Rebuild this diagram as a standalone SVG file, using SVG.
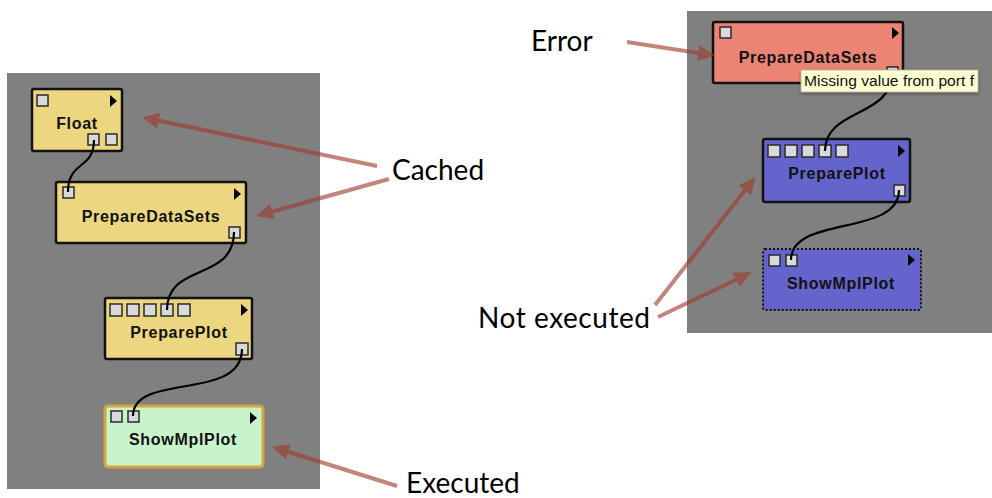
<svg xmlns="http://www.w3.org/2000/svg" width="992" height="498" viewBox="0 0 992 498">
<style>
.panel{fill:#808080}
.node{stroke:#111;stroke-width:2.5}
.cached{fill:#ecd680}
.error{fill:#eb8474}
.notrun{fill:#6464cc}
.port{fill:#d9d9d9;stroke:#2a2a2a;stroke-width:1.5}
.play{fill:#000}
.ntext{font-family:"Liberation Sans",Arial,sans-serif;font-weight:bold;font-size:16px;letter-spacing:0.7px;fill:#111;text-anchor:middle}
.wire{fill:none;stroke:#000;stroke-width:2.2}
.arrow{fill:none;stroke:#a03a2c;stroke-width:4;opacity:0.62}
.label{font-family:Lato,"Open Sans",sans-serif;font-size:28px;fill:#000}
.tip{font-family:"Liberation Sans",Arial,sans-serif;font-size:14px;fill:#111}
</style>
<defs>
<marker id="ah" markerUnits="userSpaceOnUse" markerWidth="20" markerHeight="18" refX="13" refY="8" orient="auto">
<path d="M0,0 L17,8 L0,16 z" fill="#a03a2c"/>
</marker>
<filter id="sh" x="-10%" y="-30%" width="120%" height="170%">
<feDropShadow dx="0" dy="1.5" stdDeviation="1.5" flood-color="#000" flood-opacity="0.4"/>
</filter>
</defs>
<rect class="panel" x="7" y="73" width="313" height="416"/>
<rect class="panel" x="687" y="11" width="305" height="322"/>

<g id="float">
<rect class="node cached" x="32" y="89" width="90" height="62" rx="2"/>
<rect class="port" x="37" y="95" width="11" height="11"/>
<polygon class="play" points="110,95 117,101 110,107"/>
<rect class="port" x="88" y="134" width="11" height="11"/>
<rect class="port" x="106" y="134" width="11" height="11"/>
<text class="ntext" x="77" y="129">Float</text>
</g>
<g id="prepareDataSets1">
<rect class="node cached" x="56" y="182" width="190" height="61" rx="2"/>
<rect class="port" x="63" y="187" width="11" height="11"/>
<polygon class="play" points="234,188 241,194 234,200"/>
<rect class="port" x="229" y="227" width="11" height="11"/>
<text class="ntext" x="151" y="222">PrepareDataSets</text>
</g>
<g id="preparePlot1">
<rect class="node cached" x="105" y="298" width="147" height="61" rx="2"/>
<rect class="port" x="110" y="304" width="12" height="12"/>
<rect class="port" x="127" y="304" width="12" height="12"/>
<rect class="port" x="144" y="304" width="12" height="12"/>
<rect class="port" x="161" y="304" width="12" height="12"/>
<rect class="port" x="178" y="304" width="12" height="12"/>
<polygon class="play" points="241,304 248,310 241,316"/>
<rect class="port" x="236" y="343" width="12" height="12"/>
<text class="ntext" x="179" y="338">PreparePlot</text>
</g>
<g id="showMplPlot1">
<rect x="105" y="406" width="158" height="61" rx="3" fill="#c8f4cb" stroke="#d6a43c" stroke-width="3"/>
<rect class="port" x="111" y="411" width="11" height="11"/>
<rect class="port" x="128" y="411" width="11" height="11"/>
<polygon class="play" points="250,412 257,418 250,424"/>
<text class="ntext" x="183" y="445">ShowMplPlot</text>
</g>

<g id="prepareDataSets2">
<rect class="node error" x="713" y="22" width="190" height="61" rx="2"/>
<rect class="port" x="720" y="27" width="11" height="11"/>
<polygon class="play" points="892,27 899,33 892,39"/>
<rect class="port" x="887" y="67" width="11" height="11"/>
<text class="ntext" x="808" y="63">PrepareDataSets</text>
</g>
<g id="preparePlot2">
<rect class="node notrun" x="763" y="139" width="147" height="63" rx="2"/>
<rect class="port" x="768" y="145" width="12" height="12"/>
<rect class="port" x="785" y="145" width="12" height="12"/>
<rect class="port" x="802" y="145" width="12" height="12"/>
<rect class="port" x="819" y="145" width="12" height="12"/>
<rect class="port" x="836" y="145" width="12" height="12"/>
<polygon class="play" points="898,145 905,151 898,157"/>
<rect class="port" x="894" y="185" width="11" height="11"/>
<text class="ntext" x="837" y="179">PreparePlot</text>
</g>
<g id="showMplPlot2">
<rect class="notrun" x="763" y="249" width="158" height="61" rx="2" stroke="#111" stroke-width="2" stroke-dasharray="2,2"/>
<rect class="port" x="769" y="255" width="11" height="11"/>
<rect class="port" x="786" y="255" width="11" height="11"/>
<polygon class="play" points="908,254 915,260 908,266"/>
<text class="ntext" x="841" y="289">ShowMplPlot</text>
</g>

<g id="connectors">
<path class="wire" d="M94,140 C94,170 68,160 68,192"/>
<path class="wire" d="M234,232 C234,282 167,262 167,310"/>
<path class="wire" d="M242,349 C242,402 133,372 133,416"/>
<path class="wire" d="M892,73 C892,118 825,108 825,151"/>
<path class="wire" d="M899,190 C899,237 791,215 791,260"/>
</g>

<g id="tooltip">
<rect x="801" y="70" width="177" height="22" fill="#ffffd2" stroke="#b0b0a0" stroke-width="0.8" filter="url(#sh)"/>
<text class="tip" x="804" y="86" textLength="170" lengthAdjust="spacingAndGlyphs">Missing value from port f</text>
</g>

<g id="annotations">
<line class="arrow" x1="377" y1="166" x2="146" y2="118" marker-end="url(#ah)"/>
<line class="arrow" x1="389" y1="179" x2="260" y2="215" marker-end="url(#ah)"/>
<line class="arrow" x1="397" y1="486" x2="276" y2="448" marker-end="url(#ah)"/>
<line class="arrow" x1="627" y1="42" x2="711" y2="55" marker-end="url(#ah)"/>
<line class="arrow" x1="655" y1="305" x2="753" y2="180" marker-end="url(#ah)"/>
<line class="arrow" x1="658" y1="317" x2="748" y2="274" marker-end="url(#ah)"/>
<text class="label" x="392" y="180">Cached</text>
<text class="label" x="406" y="493">Executed</text>
<text class="label" x="531" y="51">Error</text>
<text class="label" x="478" y="328" textLength="172">Not executed</text>
</g>
</svg>
